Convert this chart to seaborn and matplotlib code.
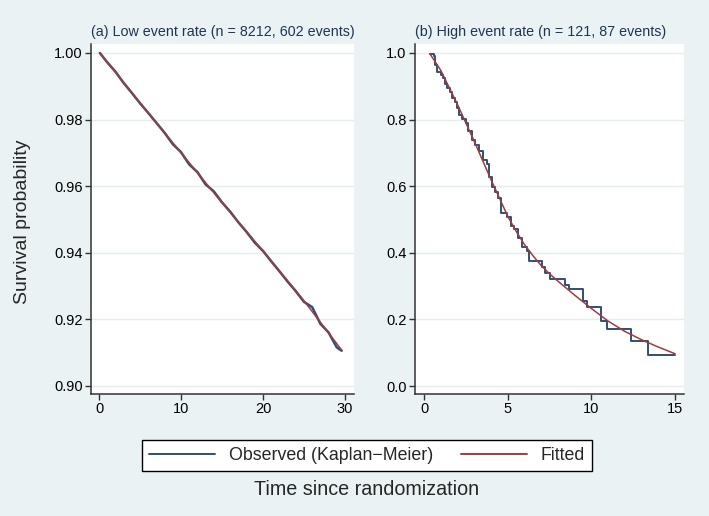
import numpy as np
import pandas as pd
import matplotlib
matplotlib.use('Agg')
import matplotlib.pyplot as plt
from matplotlib.ticker import FormatStrFormatter
import seaborn as sns

# Colours (Stata s2color look)
bg_color = '#eaf2f3'
grid_color = '#e4ecee'
obs_color = '#2d5074'
fit_color = '#a03c3c'
title_color = '#1c3656'

# Panel (a): low event rate, observed KM and fitted curve
obs_a_t = [0.1, 1, 2, 3, 4, 5, 6, 7, 8, 9, 10, 11, 12, 13, 14, 15, 16, 17, 18, 19,
           20, 21, 22, 23, 24, 25, 26, 27, 28, 29, 29.6]
obs_a_s = [1.0, 0.9972, 0.9944, 0.9910, 0.9880, 0.9849, 0.9820, 0.9790, 0.9760, 0.9726,
           0.9702, 0.9665, 0.9642, 0.9605, 0.9584, 0.9551, 0.9523, 0.9491, 0.9462, 0.9430,
           0.9405, 0.9374, 0.9344, 0.9313, 0.9284, 0.9252, 0.9236, 0.9186, 0.9160, 0.9115,
           0.9105]
fit_a_t = [0.1, 5, 10, 15, 20, 25, 29.6]
fit_a_s = [1.000, 0.985, 0.970, 0.955, 0.9405, 0.9255, 0.9107]

# Panel (b): high event rate
obs_b_t = [0.36, 0.60, 0.66, 0.80, 0.99, 1.12, 1.25, 1.35, 1.55, 1.69, 1.85, 1.95, 2.11,
           2.25, 2.51, 2.65, 2.85, 3.05, 3.31, 3.51, 3.75, 3.88, 4.04, 4.24, 4.40, 4.58,
           4.94, 5.18, 5.40, 5.64, 5.84, 6.14, 6.28, 7.07, 7.23, 7.53, 8.43, 8.69, 9.52,
           9.76, 10.58, 10.96, 12.35, 13.37, 15.0]
obs_b_s = [0.996, 0.990, 0.965, 0.944, 0.934, 0.924, 0.906, 0.896, 0.884, 0.864, 0.852,
           0.834, 0.814, 0.802, 0.789, 0.766, 0.739, 0.724, 0.706, 0.679, 0.666, 0.629,
           0.599, 0.582, 0.565, 0.520, 0.508, 0.480, 0.471, 0.445, 0.416, 0.406, 0.376,
           0.356, 0.340, 0.320, 0.303, 0.290, 0.256, 0.238, 0.196, 0.170, 0.136, 0.094,
           0.094]
fit_b_t = [0.36, 1, 2, 3, 4, 4.5, 5, 5.5, 6, 6.5, 7, 7.5, 8, 9, 10, 11, 12, 13, 14, 15]
fit_b_s = [0.997, 0.948, 0.845, 0.735, 0.620, 0.565, 0.510, 0.465, 0.425, 0.392, 0.362,
           0.337, 0.315, 0.273, 0.233, 0.195, 0.164, 0.139, 0.117, 0.097]

titles = ['(a) Low event rate (n = 8212, 602 events)',
          '(b) High event rate (n = 121, 87 events)']
legend_labels = ['Observed (Kaplan\u2212Meier)', 'Fitted']

sns.set_style('white')
plt.rcParams['font.family'] = ['Liberation Sans', 'DejaVu Sans']

fig = plt.figure(figsize=(7.09, 5.16), dpi=100)
fig.patch.set_facecolor(bg_color)

ax1 = fig.add_axes([91 / 709, 1 - 394 / 516, 263 / 709, 350 / 516])
ax2 = fig.add_axes([415 / 709, 1 - 394 / 516, 269 / 709, 350 / 516])

panels = [
    (ax1, obs_a_t, obs_a_s, fit_a_t, fit_a_s, 'default', 1.8),
    (ax2, obs_b_t, obs_b_s, fit_b_t, fit_b_s, 'steps-post', 1.4),
]
for ax, ot, os_, ft, fs, ds, lw in panels:
    obs = pd.DataFrame({'t': ot, 's': os_})
    fit = pd.DataFrame({'t': ft, 's': fs})
    sns.lineplot(data=obs, x='t', y='s', ax=ax, color=obs_color, lw=lw,
                 drawstyle=ds, estimator=None, sort=False)
    sns.lineplot(data=fit, x='t', y='s', ax=ax, color=fit_color, lw=1.1,
                 estimator=None, sort=False)

# Axis ranges and ticks
ax1.set_xlim(-0.98, 31.1)
ax1.set_ylim(0.8975, 1.0027)
ax1.set_xticks([0, 10, 20, 30])
ax1.set_yticks([0.90, 0.92, 0.94, 0.96, 0.98, 1.00])
ax1.yaxis.set_major_formatter(FormatStrFormatter('%.2f'))

ax2.set_xlim(-0.54, 15.54)
ax2.set_ylim(-0.024, 1.027)
ax2.set_xticks([0, 5, 10, 15])
ax2.set_yticks([0.0, 0.2, 0.4, 0.6, 0.8, 1.0])
ax2.yaxis.set_major_formatter(FormatStrFormatter('%.1f'))

for ax, title in zip([ax1, ax2], titles):
    ax.set_facecolor('white')
    ax.set_xlabel('')
    ax.set_ylabel('')
    ax.grid(axis='y', color=grid_color, lw=1.0)
    ax.set_axisbelow(True)
    for side in ['top', 'right']:
        ax.spines[side].set_visible(False)
    for side in ['left', 'bottom']:
        ax.spines[side].set_color('#333333')
        ax.spines[side].set_linewidth(1.1)
    ax.tick_params(axis='both', direction='out', length=4, width=1,
                   color='#333333', labelsize=10.5, labelcolor='black', pad=2,
                   left=True, bottom=True)
    ax.set_title(title, loc='left', fontsize=10.3, color=title_color, pad=6)

# Shared labels
fig.text(0.032, 0.571, 'Survival probability', rotation=90, ha='center',
         va='center', fontsize=14)
fig.text(0.517, 0.052, 'Time since randomization', ha='center', va='center',
         fontsize=14.2)

handles = [plt.Line2D([], [], color=obs_color, lw=1.4),
           plt.Line2D([], [], color=fit_color, lw=1.4)]
leg = fig.legend(handles, legend_labels, loc='center', ncol=2,
                 bbox_to_anchor=(0.5176, 0.117), fontsize=12.8, frameon=True,
                 fancybox=False, edgecolor='black', facecolor='white',
                 handlelength=3.7, handletextpad=0.75, columnspacing=1.6,
                 borderpad=0.4)
leg.get_frame().set_linewidth(1.0)
leg.get_frame().set_alpha(1)

fig.savefig('out.png', dpi=100, facecolor=fig.get_facecolor())
